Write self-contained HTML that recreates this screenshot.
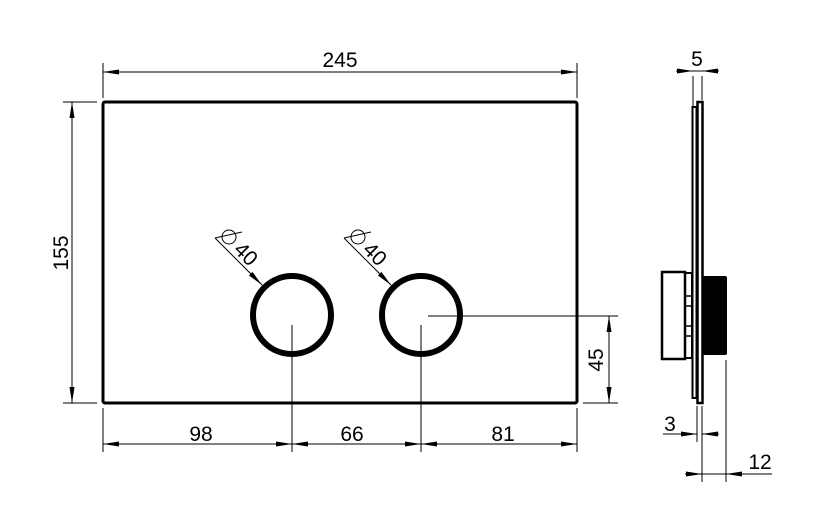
<!DOCTYPE html>
<html><head><style>html,body{margin:0;padding:0;background:#fff}svg{display:block}
text{font-family:"Liberation Sans",Arial,sans-serif;font-size:21px;fill:#000}</style></head>
<body>
<svg width="821" height="528" viewBox="0 0 821 528" xmlns="http://www.w3.org/2000/svg">
<defs>
<marker id="a" viewBox="0 0 16 6" refX="16" refY="3" markerWidth="16" markerHeight="6" markerUnits="userSpaceOnUse" orient="auto-start-reverse"><path d="M0,0.5 L16,3 L0,5.5 z" fill="#000"/></marker>
</defs>
<g stroke="#000" fill="none">
<rect x="103" y="102" width="474" height="301" rx="2" stroke-width="3"/>
<circle cx="292" cy="315" r="39" stroke-width="6"/>
<circle cx="421" cy="315" r="39" stroke-width="6"/>
<g stroke-width="1">
<line x1="103" y1="63" x2="103" y2="98"/>
<line x1="577" y1="63" x2="577" y2="98"/>
<line x1="103" y1="72" x2="577" y2="72" marker-start="url(#a)" marker-end="url(#a)"/>
<line x1="63" y1="102" x2="97" y2="102"/>
<line x1="63" y1="403" x2="97" y2="403"/>
<line x1="72" y1="102" x2="72" y2="403" marker-start="url(#a)" marker-end="url(#a)"/>
<line x1="103" y1="408" x2="103" y2="452"/>
<line x1="292" y1="325" x2="292" y2="452"/>
<line x1="421" y1="325" x2="421" y2="452"/>
<line x1="577" y1="408" x2="577" y2="452"/>
<line x1="103" y1="444" x2="292" y2="444" marker-start="url(#a)" marker-end="url(#a)"/>
<line x1="292" y1="444" x2="421" y2="444" marker-start="url(#a)" marker-end="url(#a)"/>
<line x1="421" y1="444" x2="577" y2="444" marker-start="url(#a)" marker-end="url(#a)"/>
<line x1="428" y1="316" x2="618" y2="316"/>
<line x1="583" y1="403" x2="618" y2="403"/>
<line x1="609" y1="316" x2="609" y2="403" marker-start="url(#a)" marker-end="url(#a)"/>
<line x1="215" y1="238" x2="262" y2="285" marker-end="url(#a)"/>
<line x1="215" y1="238" x2="242" y2="232"/>
<circle cx="229" cy="237" r="7"/>
<line x1="344" y1="238" x2="391" y2="285" marker-end="url(#a)"/>
<line x1="344" y1="238" x2="371" y2="232"/>
<circle cx="358" cy="237" r="7"/>
<line x1="693" y1="76" x2="693" y2="106"/>
<line x1="702" y1="76" x2="702" y2="100"/>
<line x1="676" y1="71" x2="693" y2="71" marker-end="url(#a)"/>
<line x1="719" y1="71" x2="702" y2="71" marker-end="url(#a)"/>
<line x1="693" y1="71" x2="702" y2="71"/>
<line x1="697" y1="406" x2="697" y2="442"/>
<line x1="702" y1="406" x2="702" y2="482"/>
<line x1="663" y1="434" x2="697" y2="434" marker-end="url(#a)"/>
<line x1="719" y1="434" x2="702" y2="434" marker-end="url(#a)"/>
<line x1="726" y1="360" x2="726" y2="482"/>
<line x1="685" y1="474" x2="702" y2="474" marker-end="url(#a)"/>
<line x1="772" y1="474" x2="726" y2="474" marker-end="url(#a)"/>
<line x1="702" y1="474" x2="726" y2="474"/>
</g>
<rect x="692.5" y="107" width="4" height="291" stroke-width="2"/>
<rect x="697.5" y="102" width="5" height="301" stroke-width="2.5"/>
<rect x="662" y="272" width="23" height="87" stroke-width="2.5"/>
<rect x="685" y="273" width="7" height="85" stroke-width="2"/>
<g stroke-width="1.5"><line x1="686" y1="296" x2="692" y2="296"/><line x1="686" y1="306" x2="692" y2="306"/><line x1="686" y1="326" x2="692" y2="326"/><line x1="686" y1="336" x2="692" y2="336"/></g>
</g>
<rect x="703" y="276" width="24" height="79" rx="2" fill="#000"/>
<text x="340" y="67" text-anchor="middle">245</text>
<text transform="translate(68,253) rotate(-90)" text-anchor="middle">155</text>
<text x="201" y="441" text-anchor="middle">98</text>
<text x="352" y="441" text-anchor="middle">66</text>
<text x="503" y="441" text-anchor="middle">81</text>
<text transform="translate(603,360) rotate(-90)" text-anchor="middle">45</text>
<text transform="translate(241,259) rotate(45)" text-anchor="middle">40</text>
<text transform="translate(370,259) rotate(45)" text-anchor="middle">40</text>
<text x="697" y="66" text-anchor="middle">5</text>
<text x="670" y="431" text-anchor="middle">3</text>
<text x="760" y="469" text-anchor="middle">12</text>
</svg>
</body></html>
